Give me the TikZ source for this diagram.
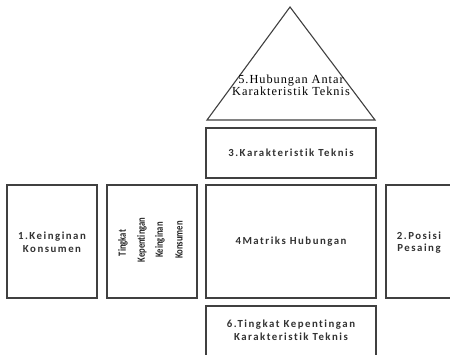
\documentclass[tikz,border=0pt]{standalone}
\usepackage{fontspec}
\setmainfont{Liberation Serif}
\newfontfamily\boxfont[LetterSpace=14, Ligatures=NoCommon]{Carlito}
\newfontfamily\colfont[Ligatures=NoCommon]{Carlito}
\newfontfamily\trifont[LetterSpace=8]{Liberation Serif}
\newcommand{\narrowtext}[1]{\scalebox{0.78}[1]{#1}}
\tikzset{
  part/.style={draw=black!75, line width=1.1pt, fill=white},
  lbl/.style={font=\boxfont\bfseries\fontsize{10.8}{12.5}\selectfont, text=black!80, align=center, inner sep=0pt},
  tlbl/.style={font=\trifont\fontsize{12.3}{11}\selectfont, text=black, align=center, inner sep=0pt},
  vlbl/.style={font=\colfont\bfseries\fontsize{11}{11}\selectfont, text=black!85, rotate=90, inner sep=0pt}
}
\begin{document}
\begin{tikzpicture}[x=1pt, y=-1pt]
\useasboundingbox (0,0) rectangle (450,355);
\begin{scope}
\clip (0,0) rectangle (450,355);
% roof: correlations between technical characteristics
\draw[part] (290,7) -- (375,120) -- (207,120) -- cycle;
\node[tlbl] (roof) at (291,85.5) {5.Hubungan Antar\\Karakteristik Teknis};
% technical characteristics
\draw[part] (206,128) rectangle (376,178);
\node[lbl] (tech) at (291,153) {3.Karakteristik Teknis};
% customer requirements
\draw[part] (7,185) rectangle (97,298);
\node[lbl] (cust) at (52,242.5) {1.Keinginan\\Konsumen};
% importance of customer requirements
\draw[part] (107,185) rectangle (197,298);
\node[vlbl] (c1) at (123,243) {\narrowtext{Tingkat}};
\node[vlbl] (c2) at (142,240) {\narrowtext{Kepentingan}};
\node[vlbl] (c3) at (160,240) {\narrowtext{Keinginan}};
\node[vlbl] (c4) at (179,240) {\narrowtext{Konsumen}};
% relationship matrix
\draw[part] (206,185) rectangle (376,298);
\node[lbl] (matrix) at (291,242) {4Matriks Hubungan};
% competitive position
\draw[part] (386,185) rectangle (456,298);
\node[lbl] (comp) at (419,242.5) {2.Posisi\\Pesaing};
% importance of technical characteristics
\draw[part] (206,306) rectangle (376,360);
\node[lbl] (imp) at (291,330.5) {6.Tingkat Kepentingan\\Karakteristik Teknis};
\end{scope}
\end{tikzpicture}
\end{document}
